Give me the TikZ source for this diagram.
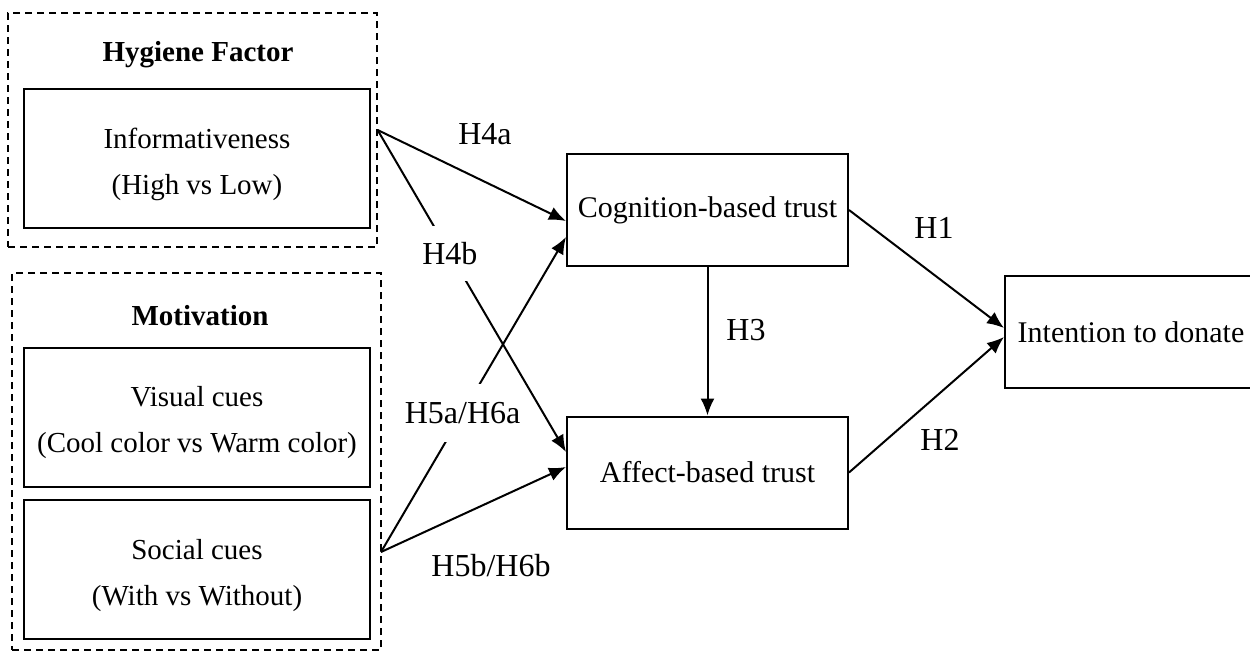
\documentclass[tikz,border=0pt]{standalone}
\usepackage{fontspec}
\setmainfont{Liberation Serif}
\usetikzlibrary{arrows.meta,positioning,calc}

\begin{document}
\begin{tikzpicture}
  \tikzstyle{group} = [draw, line width=0.6pt, dash pattern=on 3.5pt off 2.5pt, inner sep=0pt, minimum width=184.5pt]
  \tikzstyle{title} = [font=\bfseries\fontsize{14.5}{17}\selectfont]
  \tikzstyle{box}   = [draw, line width=1pt, align=center, inner sep=0pt, minimum width=173pt, minimum height=69.5pt, font=\fontsize{14.5}{23}\selectfont]
  \tikzstyle{trust} = [draw, line width=1pt, inner sep=0pt, minimum width=140.5pt, minimum height=56pt, font=\fontsize{15}{18}\selectfont]
  \tikzstyle{hyp}   = [font=\fontsize{16}{19}\selectfont]
  \tikzstyle{link}  = [-{Latex[length=8.5pt,width=7pt]}, line width=1pt]

  \def\L{98.5pt};
  \def\M{353.75pt};
  \def\up{\rule{0pt}{16pt}};

  \useasboundingbox (0,0) rectangle (625pt,-325pt);

  % left groups
  \node[group, minimum height=117pt] (hyg) at (96.25pt, -65pt) {};
  \node[group, minimum height=188.5pt] (mot) at (98.25pt, -230.75pt) {};
  \node[title] (hygt) at (99pt, -27.5pt) {Hygiene Factor};
  \node[title] (mott) at (100pt, -158pt) {Motivation};

  % left boxes
  \node[box] (info) at (\L, -79.25pt) {\up Informativeness\\(High vs Low)};
  \node[box] (vis) at (\L, -208.5pt) {\up Visual cues\\(Cool color vs Warm color)};
  \node[box] (soc) at (\L, -284.75pt) {\up Social cues\\(With vs Without)};
  \coordinate (socout) at (190.5pt, -276pt);

  % trust and intention
  \node[trust] (cog) at (\M, -105pt) {Cognition-based trust};
  \node[trust] (aff) at (\M, -236.25pt) {Affect-based trust};
  \node[trust, minimum width=126pt] (int) at (565.5pt, -166pt) {Intention to donate};

  % connection lines
  \draw[link] (hyg.east) -- ($(cog.west)+(0,-5.5pt)$);
  \draw[link] (hyg.east) -- ($(aff.west)+(0,10.25pt)$)
    node[hyp, pos=0.384, fill=white, inner xsep=1pt, inner ysep=8pt] (h4b) {H4b};
  \draw[link] (socout) -- ($(cog.west)+(0,-13.5pt)$)
    node[hyp, pos=0.441, fill=white, inner xsep=1pt, inner ysep=9pt] (h5a) {H5a/H6a};
  \draw[link] (socout) -- ($(aff.west)+(0,2.75pt)$);
  \draw[link] (cog.south) -- (aff.north);
  \draw[link] (cog.east) -- ($(int.west)+(0,2pt)$);
  \draw[link] (aff.east) -- ($(int.west)+(0,-2.5pt)$);

  % hypothesis labels
  \node[hyp] (h4a) at (242.5pt, -67pt) {H4a};
  \node[hyp] (h5b) at (245.5pt, -283pt) {H5b/H6b};
  \node[hyp] (h3) at (373pt, -165pt) {H3};
  \node[hyp] (h1) at (467pt, -114pt) {H1};
  \node[hyp] (h2) at (470pt, -220pt) {H2};

\end{tikzpicture}
\end{document}
